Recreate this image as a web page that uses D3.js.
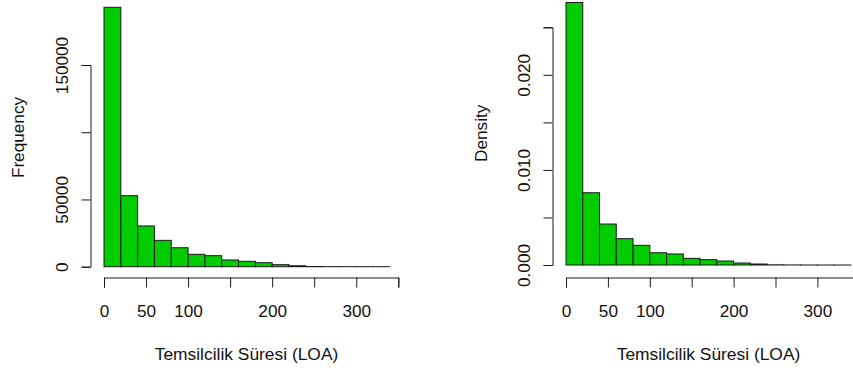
<!DOCTYPE html>
<html>
<head>
<meta charset="utf-8">
<script src="https://cdn.jsdelivr.net/npm/d3@7"></script>
<style>
  body { margin: 0; background: #ffffff; }
  svg text { font-family: "Liberation Sans", Arial, sans-serif; fill: #111111; }
</style>
</head>
<body>
<div id="hist_panel"></div>
<script>
// DATA
var binEdges = [0, 20, 40, 60, 80, 100, 120, 140, 160, 180, 200, 220, 240, 260, 280, 300, 320, 340];
var counts = [192900, 52800, 30300, 19600, 14100, 9200, 8200, 5000, 4000, 3000, 1500, 700, 150, 40, 15, 5, 2];
var densities = [0.02761, 0.0076, 0.00431, 0.00277, 0.00207, 0.00129, 0.00116, 0.0007, 0.00056, 0.00042, 0.00021, 0.000105, 0.00002, 0.000006, 0.000002, 0.000001, 0.0000005];

var xTicks = [0, 50, 100, 150, 200, 250, 300, 350];
var xTickLabels = ["0", "50", "100", "", "200", "", "300", ""];
var freqTicks = [0, 50000, 100000, 150000];
var freqTickLabels = ["0", "50000", "", "150000"];
var densTicks = [0, 0.005, 0.01, 0.015, 0.02, 0.025];
var densTickLabels = ["0.000", "", "0.010", "", "0.020", ""];

var xTitle = "Temsilcilik Süresi (LOA)";

var barFill = "#00cd00";
var inkColor = "#1a1a1a";

var svg = d3
  .select("#hist_panel")
  .append("svg")
  .attr("width", 853)
  .attr("height", 376);

// Draws one R-style histogram panel
function drawHistogram(opts) {
  var x = d3.scaleLinear().domain([0, 350]).range(opts.xRange);
  var y = d3.scaleLinear().domain(opts.yDomain).range(opts.yRange);

  var g = svg.append("g");

  var bins = opts.values.map(function (v, i) {
    return { lo: binEdges[i], hi: binEdges[i + 1], v: v };
  });

  g.selectAll("rect")
    .data(bins)
    .enter()
    .append("rect")
    .attr("x", function (d) { return x(d.lo); })
    .attr("width", function (d) { return x(d.hi) - x(d.lo); })
    .attr("y", function (d) { return y(d.v); })
    .attr("height", function (d) { return y(0) - y(d.v); })
    .attr("fill", barFill)
    .attr("stroke", inkColor)
    .attr("stroke-width", 1);

  // x axis
  var xAxis = g
    .append("g")
    .attr("transform", "translate(0," + opts.xAxisY + ")")
    .call(
      d3.axisBottom(x)
        .tickValues(xTicks)
        .tickSizeOuter(0)
        .tickSize(10)
        .tickFormat(function (d, i) { return xTickLabels[i]; })
    );
  xAxis.select(".domain").attr("stroke", inkColor);
  xAxis.selectAll(".tick line").attr("stroke", inkColor);
  xAxis.selectAll(".tick text")
    .attr("y", 39.5)
    .attr("dy", 0)
    .style("font-size", "17.2px");

  // y axis
  var yAxis = g
    .append("g")
    .attr("transform", "translate(" + opts.yAxisX + ",0)")
    .call(
      d3.axisLeft(y)
        .tickValues(opts.ticks)
        .tickSizeOuter(0)
        .tickSize(9)
        .tickFormat(function (d, i) { return opts.tickLabels[i]; })
    );
  yAxis.select(".domain").attr("stroke", inkColor);
  yAxis.selectAll(".tick line").attr("stroke", inkColor);
  yAxis.selectAll(".tick text")
    .attr("transform", "rotate(-90)")
    .attr("x", 0)
    .attr("y", -22.5)
    .attr("dy", 0)
    .attr("text-anchor", "middle")
    .style("font-size", "17.2px");

  svg.selectAll(".tick text").attr("fill", "#111111");

  // axis titles
  svg.append("text")
    .attr("x", opts.titleX)
    .attr("y", 359.5)
    .attr("text-anchor", "middle")
    .style("font-size", "17.4px")
    .text(xTitle);

  svg.append("text")
    .attr("transform", "translate(" + opts.ylabX + "," + opts.ylabY + ") rotate(-90)")
    .attr("text-anchor", "middle")
    .style("font-size", "17.2px")
    .text(opts.ylab);
}

drawHistogram({
  values: counts,
  xRange: [104, 398.3],
  yDomain: [0, 150000],
  yRange: [266.7, 65],
  xAxisY: 277.5,
  yAxisX: 90.5,
  ticks: freqTicks,
  tickLabels: freqTickLabels,
  titleX: 246.5,
  ylab: "Frequency",
  ylabX: 24,
  ylabY: 137.5,
});

drawHistogram({
  values: densities,
  xRange: [566, 859.3],
  yDomain: [0, 0.025],
  yRange: [265, 27.3],
  xAxisY: 277.5,
  yAxisX: 552.5,
  ticks: densTicks,
  tickLabels: densTickLabels,
  titleX: 708.5,
  ylab: "Density",
  ylabX: 486.5,
  ylabY: 133.3,
});
</script>
</body>
</html>
